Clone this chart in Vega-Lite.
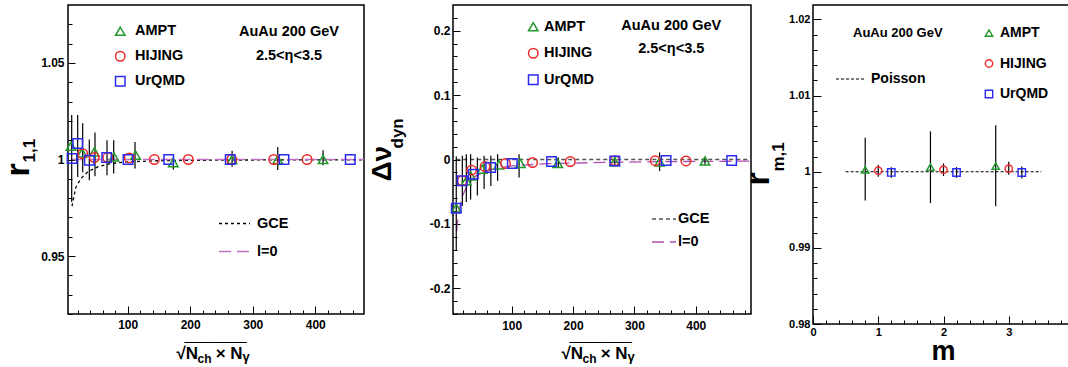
{
  "$schema": "https://vega.github.io/schema/vega-lite/v6.json",
  "autosize": {"type": "pad"},
  "padding": {"left": 0, "top": 4, "right": 0, "bottom": 0},
  "background": "white",
  "datasets": {
    "p1pts": [
      {"gen": "AMPT", "x": 9.3, "y": 1.0069}, {"gen": "AMPT", "x": 27, "y": 1.0034}, {"gen": "AMPT", "x": 46.6, "y": 1.0039},
      {"gen": "AMPT", "x": 78, "y": 1.0013}, {"gen": "AMPT", "x": 112.7, "y": 1.0022}, {"gen": "AMPT", "x": 173, "y": 0.9984},
      {"gen": "AMPT", "x": 267, "y": 1.0}, {"gen": "AMPT", "x": 340, "y": 0.9999}, {"gen": "AMPT", "x": 412.5, "y": 1.0},
      {"gen": "HIJING", "x": 28, "y": 1.003}, {"gen": "HIJING", "x": 46.6, "y": 1.001}, {"gen": "HIJING", "x": 68, "y": 1.001},
      {"gen": "HIJING", "x": 102.6, "y": 1.0008}, {"gen": "HIJING", "x": 142.6, "y": 1.0}, {"gen": "HIJING", "x": 197, "y": 1.0},
      {"gen": "HIJING", "x": 266.4, "y": 1.0}, {"gen": "HIJING", "x": 333.6, "y": 1.0}, {"gen": "HIJING", "x": 386.9, "y": 1.0},
      {"gen": "UrQMD", "x": 11, "y": 1.0005}, {"gen": "UrQMD", "x": 20, "y": 1.0083}, {"gen": "UrQMD", "x": 38.6, "y": 0.9996},
      {"gen": "UrQMD", "x": 66.4, "y": 1.001}, {"gen": "UrQMD", "x": 100.5, "y": 1.0}, {"gen": "UrQMD", "x": 165.6, "y": 1.0},
      {"gen": "UrQMD", "x": 264, "y": 1.0}, {"gen": "UrQMD", "x": 350, "y": 1.0}, {"gen": "UrQMD", "x": 456, "y": 1.0}
    ],
    "p1err": [
      {"x": 10.4, "lo": 0.978, "hi": 1.023}, {"x": 20, "lo": 0.991, "hi": 1.023}, {"x": 28, "lo": 0.9934, "hi": 1.0188},
      {"x": 38.6, "lo": 0.9893, "hi": 1.0104}, {"x": 47.7, "lo": 0.9913, "hi": 1.014}, {"x": 66.9, "lo": 0.9919, "hi": 1.01},
      {"x": 77.6, "lo": 0.9927, "hi": 1.01}, {"x": 111.7, "lo": 0.9953, "hi": 1.0091}, {"x": 173, "lo": 0.9948, "hi": 1.0013},
      {"x": 267, "lo": 0.9962, "hi": 1.0045}, {"x": 340, "lo": 0.9945, "hi": 1.0065}, {"x": 412.5, "lo": 0.997, "hi": 1.0048}
    ],
    "p1lines": [
      {"model": "GCE", "x": 11, "y": 0.9758}, {"model": "GCE", "x": 14, "y": 0.981}, {"model": "GCE", "x": 17.3, "y": 0.9858},
      {"model": "GCE", "x": 25.3, "y": 0.9902}, {"model": "GCE", "x": 36, "y": 0.9936}, {"model": "GCE", "x": 52, "y": 0.9962},
      {"model": "GCE", "x": 73, "y": 0.9979}, {"model": "GCE", "x": 100, "y": 0.9988}, {"model": "GCE", "x": 153, "y": 0.9994},
      {"model": "GCE", "x": 250, "y": 0.9997}, {"model": "GCE", "x": 350, "y": 0.9998}, {"model": "GCE", "x": 478, "y": 0.9998},
      {"model": "l=0", "x": 9, "y": 1.0}, {"model": "l=0", "x": 478, "y": 1.0}
    ],
    "p2pts": [
      {"gen": "AMPT", "x": 9.6, "y": -0.0756}, {"gen": "AMPT", "x": 26, "y": -0.033}, {"gen": "AMPT", "x": 33, "y": -0.0254},
      {"gen": "AMPT", "x": 52, "y": -0.015}, {"gen": "AMPT", "x": 79, "y": -0.0082}, {"gen": "AMPT", "x": 114, "y": -0.0062},
      {"gen": "AMPT", "x": 175, "y": -0.0062}, {"gen": "AMPT", "x": 268, "y": -0.0034}, {"gen": "AMPT", "x": 341, "y": -0.0039},
      {"gen": "AMPT", "x": 415, "y": -0.0023},
      {"gen": "HIJING", "x": 19.4, "y": -0.033}, {"gen": "HIJING", "x": 34.6, "y": -0.0165}, {"gen": "HIJING", "x": 56.5, "y": -0.0109},
      {"gen": "HIJING", "x": 90, "y": -0.0062}, {"gen": "HIJING", "x": 134, "y": -0.0047}, {"gen": "HIJING", "x": 195.4, "y": -0.0031},
      {"gen": "HIJING", "x": 268, "y": -0.002}, {"gen": "HIJING", "x": 334, "y": -0.0018}, {"gen": "HIJING", "x": 384, "y": -0.0023},
      {"gen": "UrQMD", "x": 9.6, "y": -0.0756}, {"gen": "UrQMD", "x": 19.4, "y": -0.033}, {"gen": "UrQMD", "x": 37.4, "y": -0.0228},
      {"gen": "UrQMD", "x": 65.7, "y": -0.0124}, {"gen": "UrQMD", "x": 101, "y": -0.0062}, {"gen": "UrQMD", "x": 165, "y": -0.0031},
      {"gen": "UrQMD", "x": 268, "y": -0.0023}, {"gen": "UrQMD", "x": 351.6, "y": -0.0016}, {"gen": "UrQMD", "x": 458.5, "y": -0.0016}
    ],
    "p2err": [
      {"x": 9.6, "lo": -0.142, "hi": 0.005}, {"x": 19.5, "lo": -0.072, "hi": 0.006}, {"x": 26, "lo": -0.066, "hi": 0.008},
      {"x": 33, "lo": -0.062, "hi": 0.008}, {"x": 44, "lo": -0.056, "hi": 0.003}, {"x": 55, "lo": -0.046, "hi": 0.006},
      {"x": 66, "lo": -0.041, "hi": 0.006}, {"x": 77, "lo": -0.033, "hi": 0.008}, {"x": 112, "lo": -0.028, "hi": 0.008},
      {"x": 176, "lo": -0.012, "hi": 0.003}, {"x": 268, "lo": -0.01, "hi": 0.006}, {"x": 341, "lo": -0.018, "hi": 0.011},
      {"x": 415, "lo": -0.008, "hi": 0.003}
    ],
    "p2lines": [
      {"model": "GCE", "x": 9.6, "y": 0}, {"model": "GCE", "x": 490, "y": 0},
      {"model": "l=0", "x": 10, "y": -0.112}, {"model": "l=0", "x": 11.3, "y": -0.1}, {"model": "l=0", "x": 14, "y": -0.08},
      {"model": "l=0", "x": 19.5, "y": -0.057}, {"model": "l=0", "x": 27.6, "y": -0.04}, {"model": "l=0", "x": 38.6, "y": -0.027},
      {"model": "l=0", "x": 55, "y": -0.019}, {"model": "l=0", "x": 76.6, "y": -0.013}, {"model": "l=0", "x": 104, "y": -0.0095},
      {"model": "l=0", "x": 158, "y": -0.0065}, {"model": "l=0", "x": 250, "y": -0.0045}, {"model": "l=0", "x": 350, "y": -0.0033},
      {"model": "l=0", "x": 490, "y": -0.0025}
    ],
    "p3pts": [
      {"gen": "AMPT", "m": 0.8, "r": 1.00026}, {"gen": "AMPT", "m": 1.8, "r": 1.0006}, {"gen": "AMPT", "m": 2.8, "r": 1.00074},
      {"gen": "HIJING", "m": 1.0, "r": 1.00013}, {"gen": "HIJING", "m": 2.0, "r": 1.00026}, {"gen": "HIJING", "m": 3.0, "r": 1.0004},
      {"gen": "UrQMD", "m": 1.2, "r": 0.99991}, {"gen": "UrQMD", "m": 2.2, "r": 0.9999}, {"gen": "UrQMD", "m": 3.2, "r": 0.9999}
    ],
    "p3err": [
      {"m": 0.8, "lo": 0.99623, "hi": 1.00447}, {"m": 1.8, "lo": 0.99588, "hi": 1.0053}, {"m": 2.8, "lo": 0.99548, "hi": 1.0061},
      {"m": 1.0, "lo": 0.99935, "hi": 1.0009}, {"m": 2.0, "lo": 0.99945, "hi": 1.0011}, {"m": 3.0, "lo": 0.9996, "hi": 1.0013},
      {"m": 1.2, "lo": 0.9992, "hi": 1.0006}, {"m": 2.2, "lo": 0.9992, "hi": 1.0006}, {"m": 3.2, "lo": 0.9991, "hi": 1.0007}
    ],
    "p3lines": [
      {"model": "Poisson", "m": 0.5, "r": 1.0}, {"model": "Poisson", "m": 3.5, "r": 1.0}
    ],
    "one": [{}]
  },
  "spacing": 2,
  "resolve": {
    "scale": {"color": "independent", "shape": "independent", "stroke": "independent", "strokeDash": "independent"},
    "legend": {"color": "independent", "shape": "independent", "stroke": "independent", "strokeDash": "independent"}
  },
  "hconcat": [
    {
      "width": 296,
      "height": 309,
      "resolve": {"axis": {"x": "independent", "y": "independent"}},
      "layer": [
        {
          "data": {"name": "p1lines"},
          "mark": {"type": "line", "strokeWidth": 1.3, "clip": true},
          "encoding": {
            "x": {"field": "x", "type": "quantitative", "scale": {"domain": [4.5, 478], "nice": false, "zero": false},
              "axis": {"orient": "bottom", "domain": false, "ticks": false, "labels": false, "grid": false, "title": "γ", "titleFontSize": 13, "titleAlign": "left", "titleBaseline": "alphabetic", "titleAngle": 0, "titleX": 174, "titleY": 46}},
            "y": {"field": "y", "type": "quantitative", "scale": {"domain": [0.92, 1.08], "nice": false, "zero": false}, "axis": null},
            "stroke": {"field": "model", "type": "nominal", "scale": {"domain": ["GCE", "l=0"], "range": ["#000000", "#c070c0"]},
              "legend": {"orient": "none", "legendX": 150, "legendY": 202, "title": null, "padding": 0, "symbolType": "stroke", "symbolSize": 961, "symbolStrokeWidth": 1.3, "rowPadding": 5, "labelOffset": 6, "labelFontSize": 14.5}},
            "strokeDash": {"field": "model", "type": "nominal", "scale": {"domain": ["GCE", "l=0"], "range": [[3, 3], [12, 6]]},
              "legend": {"orient": "none", "legendX": 150, "legendY": 202, "title": null, "padding": 0, "symbolType": "stroke", "symbolSize": 961, "symbolStrokeWidth": 1.3, "rowPadding": 5, "labelOffset": 6, "labelFontSize": 14.5}}
          }
        },
        {
          "data": {"name": "p1err"},
          "mark": {"type": "rule", "color": "black", "strokeWidth": 1.2},
          "encoding": {
            "x": {"field": "x", "type": "quantitative", "scale": {"domain": [4.5, 478], "nice": false, "zero": false},
              "axis": {"orient": "bottom", "domain": false, "ticks": false, "labels": false, "grid": false, "title": "ch", "titleFontSize": 12, "titleAlign": "left", "titleBaseline": "alphabetic", "titleAngle": 0, "titleX": 129, "titleY": 48}},
            "y": {"field": "lo", "type": "quantitative", "scale": {"domain": [0.92, 1.08], "nice": false, "zero": false},
              "axis": {"orient": "left", "domain": false, "ticks": false, "labels": false, "grid": false, "title": "1,1", "titleFontSize": 17, "titleAngle": 270, "titleAlign": "left", "titleBaseline": "alphabetic", "titleX": -34, "titleY": 157}},
            "y2": {"field": "hi"}
          }
        },
        {
          "data": {"name": "p1pts"},
          "mark": {"type": "point", "filled": false, "strokeWidth": 1.5, "size": 90, "opacity": 1},
          "encoding": {
            "x": {"field": "x", "type": "quantitative", "scale": {"domain": [4.5, 478], "nice": false, "zero": false},
              "axis": {"orient": "bottom", "values": [20,40,60,80,100,120,140,160,180,200,220,240,260,280,300,320,340,360,380,400,420,440,460],
                "labelExpr": "datum.value % 100 == 0 ? format(datum.value, 'd') : ''",
                "tickSize": {"condition": {"test": "datum.value % 100 == 0", "value": -8}, "value": -4},
                "labelPadding": 13, "title": "√N\u00a0\u00a0\u00a0\u2009× N", "titleFontSize": 17, "titleAlign": "left", "titleBaseline": "alphabetic", "titleAngle": 0, "titleX": 108, "titleY": 44}},
            "y": {"field": "y", "type": "quantitative", "scale": {"domain": [0.92, 1.08], "nice": false, "zero": false},
              "axis": {"orient": "left", "values": [0.92,0.93,0.94,0.95,0.96,0.97,0.98,0.99,1,1.01,1.02,1.03,1.04,1.05,1.06,1.07],
                "labelExpr": "abs(datum.value*20 - round(datum.value*20)) < 0.001 ? format(datum.value, '.2~f') : ''",
                "tickSize": {"condition": {"test": "abs(datum.value*20 - round(datum.value*20)) < 0.001", "value": -7}, "value": -4},
                "labelPadding": 11, "title": "r", "titleFontSize": 34, "titleAngle": 270, "titleAlign": "left", "titleBaseline": "alphabetic", "titleX": -40, "titleY": 171}},
            "color": {"field": "gen", "type": "nominal", "scale": {"domain": ["AMPT", "HIJING", "UrQMD"], "range": ["#22992a", "#f02828", "#2a2af0"]},
              "legend": {"orient": "none", "legendX": 45, "legendY": 19, "title": null, "padding": 0, "rowPadding": 9, "labelOffset": 7.5, "symbolSize": 90, "symbolStrokeWidth": 1.5, "labelFontSize": 14.5}},
            "shape": {"field": "gen", "type": "nominal", "scale": {"domain": ["AMPT", "HIJING", "UrQMD"], "range": ["triangle-up", "circle", "square"]},
              "legend": {"orient": "none", "legendX": 45, "legendY": 19, "title": null, "padding": 0, "rowPadding": 9, "labelOffset": 7.5, "symbolSize": 90, "symbolStrokeWidth": 1.5, "labelFontSize": 14.5}}
          }
        },
        {
          "data": {"name": "one"},
          "mark": {"type": "text", "text": "AuAu 200 GeV", "fontSize": 14.5, "align": "center", "baseline": "middle"},
          "encoding": {
            "x": {"datum": 358, "type": "quantitative", "scale": {"domain": [4.5, 478], "nice": false, "zero": false}, "axis": null},
            "y": {"datum": 1.066, "type": "quantitative", "scale": {"domain": [0.92, 1.08], "nice": false, "zero": false}, "axis": null}
          }
        },
        {
          "data": {"name": "one"},
          "mark": {"type": "text", "text": "2.5<η<3.5", "fontSize": 14.5, "align": "center", "baseline": "middle"},
          "encoding": {
            "x": {"datum": 358, "type": "quantitative", "scale": {"domain": [4.5, 478], "nice": false, "zero": false},
              "axis": {"orient": "bottom", "domain": false, "ticks": false, "labels": false, "grid": false, "title": "________", "titleFontSize": 14, "titleFontWeight": "normal", "titleAlign": "left", "titleBaseline": "alphabetic", "titleAngle": 0, "titleX": 116, "titleY": 25.5}},
            "y": {"datum": 1.0535, "type": "quantitative", "scale": {"domain": [0.92, 1.08], "nice": false, "zero": false}, "axis": null}
          }
        }
      ]
    },
    {
      "spacing": -12,
      "resolve": {
        "scale": {"color": "independent", "shape": "independent", "stroke": "independent", "strokeDash": "independent"},
        "legend": {"color": "independent", "shape": "independent", "stroke": "independent", "strokeDash": "independent"}
      },
      "hconcat": [
        {
          "width": 298,
          "height": 309,
          "resolve": {"axis": {"x": "independent", "y": "independent"}},
          "layer": [
            {
              "data": {"name": "p2lines"},
              "mark": {"type": "line", "strokeWidth": 1.3, "clip": true},
              "encoding": {
                "x": {"field": "x", "type": "quantitative", "scale": {"domain": [4.3, 490], "nice": false, "zero": false},
                  "axis": {"orient": "bottom", "domain": false, "ticks": false, "labels": false, "grid": false, "title": "γ", "titleFontSize": 13, "titleAlign": "left", "titleBaseline": "alphabetic", "titleAngle": 0, "titleX": 174, "titleY": 46}},
                "y": {"field": "y", "type": "quantitative", "scale": {"domain": [-0.24, 0.24], "nice": false, "zero": false}, "axis": null},
                "stroke": {"field": "model", "type": "nominal", "scale": {"domain": ["GCE", "l=0"], "range": ["#555555", "#b04cb0"]},
                  "legend": {"orient": "none", "legendX": 198, "legendY": 201, "title": null, "padding": 0, "symbolType": "stroke", "symbolSize": 576, "symbolStrokeWidth": 1.3, "rowPadding": 3, "labelOffset": 1, "labelFontSize": 14.5}},
                "strokeDash": {"field": "model", "type": "nominal", "scale": {"domain": ["GCE", "l=0"], "range": [[4, 3], [12, 6]]},
                  "legend": {"orient": "none", "legendX": 198, "legendY": 201, "title": null, "padding": 0, "symbolType": "stroke", "symbolSize": 576, "symbolStrokeWidth": 1.3, "rowPadding": 3, "labelOffset": 1, "labelFontSize": 14.5}}
              }
            },
            {
              "data": {"name": "p2err"},
              "mark": {"type": "rule", "color": "black", "strokeWidth": 1.2},
              "encoding": {
                "x": {"field": "x", "type": "quantitative", "scale": {"domain": [4.3, 490], "nice": false, "zero": false},
                  "axis": {"orient": "bottom", "domain": false, "ticks": false, "labels": false, "grid": false, "title": "ch", "titleFontSize": 12, "titleAlign": "left", "titleBaseline": "alphabetic", "titleAngle": 0, "titleX": 129, "titleY": 48}},
                "y": {"field": "lo", "type": "quantitative", "scale": {"domain": [-0.24, 0.24], "nice": false, "zero": false},
                  "axis": {"orient": "left", "domain": false, "ticks": false, "labels": false, "grid": false, "title": "dyn", "titleFontSize": 17, "titleAngle": 270, "titleAlign": "left", "titleBaseline": "alphabetic", "titleX": -51, "titleY": 143}},
                "y2": {"field": "hi"}
              }
            },
            {
              "data": {"name": "p2pts"},
              "mark": {"type": "point", "filled": false, "strokeWidth": 1.5, "size": 90, "opacity": 1},
              "encoding": {
                "x": {"field": "x", "type": "quantitative", "scale": {"domain": [4.3, 490], "nice": false, "zero": false},
                  "axis": {"orient": "bottom", "values": [20,40,60,80,100,120,140,160,180,200,220,240,260,280,300,320,340,360,380,400,420,440,460,480],
                    "labelExpr": "datum.value % 100 == 0 ? format(datum.value, 'd') : ''",
                    "tickSize": {"condition": {"test": "datum.value % 100 == 0", "value": -8}, "value": -4},
                    "labelPadding": 14, "title": "√N\u00a0\u00a0\u00a0\u2009× N", "titleFontSize": 17, "titleAlign": "left", "titleBaseline": "alphabetic", "titleAngle": 0, "titleX": 108, "titleY": 44}},
                "y": {"field": "y", "type": "quantitative", "scale": {"domain": [-0.24, 0.24], "nice": false, "zero": false},
                  "axis": {"orient": "left", "values": [-0.24,-0.22,-0.2,-0.18,-0.16,-0.14,-0.12,-0.1,-0.08,-0.06,-0.04,-0.02,0,0.02,0.04,0.06,0.08,0.1,0.12,0.14,0.16,0.18,0.2,0.22],
                    "labelExpr": "abs(datum.value*10 - round(datum.value*10)) < 0.001 ? replace(format(datum.value, '.1~f'), '−', '-') : ''",
                    "tickSize": {"condition": {"test": "abs(datum.value*10 - round(datum.value*10)) < 0.001", "value": -7}, "value": -4},
                    "labelPadding": 10, "title": "Δν", "titleFontSize": 28, "titleAngle": 270, "titleAlign": "left", "titleBaseline": "alphabetic", "titleX": -63, "titleY": 176}},
                "color": {"field": "gen", "type": "nominal", "scale": {"domain": ["AMPT", "HIJING", "UrQMD"], "range": ["#22992a", "#f02828", "#2a2af0"]},
                  "legend": {"orient": "none", "legendX": 73, "legendY": 14.5, "title": null, "padding": 0, "rowPadding": 10.5, "labelOffset": 3.5, "symbolSize": 90, "symbolStrokeWidth": 1.5, "labelFontSize": 14.5}},
                "shape": {"field": "gen", "type": "nominal", "scale": {"domain": ["AMPT", "HIJING", "UrQMD"], "range": ["triangle-up", "circle", "square"]},
                  "legend": {"orient": "none", "legendX": 73, "legendY": 14.5, "title": null, "padding": 0, "rowPadding": 10.5, "labelOffset": 3.5, "symbolSize": 90, "symbolStrokeWidth": 1.5, "labelFontSize": 14.5}}
              }
            },
            {
              "data": {"name": "one"},
              "mark": {"type": "text", "text": "AuAu 200 GeV", "fontSize": 14.5, "align": "center", "baseline": "middle"},
              "encoding": {
                "x": {"datum": 360, "type": "quantitative", "scale": {"domain": [4.3, 490], "nice": false, "zero": false}, "axis": null},
                "y": {"datum": 0.208, "type": "quantitative", "scale": {"domain": [-0.24, 0.24], "nice": false, "zero": false}, "axis": null}
              }
            },
            {
              "data": {"name": "one"},
              "mark": {"type": "text", "text": "2.5<η<3.5", "fontSize": 14.5, "align": "center", "baseline": "middle"},
              "encoding": {
                "x": {"datum": 360, "type": "quantitative", "scale": {"domain": [4.3, 490], "nice": false, "zero": false},
                  "axis": {"orient": "bottom", "domain": false, "ticks": false, "labels": false, "grid": false, "title": "________", "titleFontSize": 14, "titleFontWeight": "normal", "titleAlign": "left", "titleBaseline": "alphabetic", "titleAngle": 0, "titleX": 116, "titleY": 25.5}},
                "y": {"datum": 0.172, "type": "quantitative", "scale": {"domain": [-0.24, 0.24], "nice": false, "zero": false}, "axis": null}
              }
            }
          ]
        },
        {
          "width": 261,
          "height": 319,
          "resolve": {"axis": {"x": "independent", "y": "independent"}},
          "layer": [
            {
              "data": {"name": "p3lines"},
              "mark": {"type": "line", "strokeWidth": 1.2, "clip": true},
              "encoding": {
                "x": {"field": "m", "type": "quantitative", "scale": {"domain": [0, 4], "nice": false, "zero": false}, "axis": null},
                "y": {"field": "r", "type": "quantitative", "scale": {"domain": [0.98, 1.0219], "nice": false, "zero": false}, "axis": null},
                "stroke": {"field": "model", "type": "nominal", "scale": {"domain": ["Poisson"], "range": ["#000000"]},
                  "legend": {"orient": "none", "legendX": 22, "legendY": 58.5, "title": null, "padding": 0, "symbolType": "stroke", "symbolSize": 841, "symbolStrokeWidth": 1.2, "labelOffset": 5, "labelFontSize": 14}},
                "strokeDash": {"field": "model", "type": "nominal", "scale": {"domain": ["Poisson"], "range": [[3, 2]]},
                  "legend": {"orient": "none", "legendX": 22, "legendY": 58.5, "title": null, "padding": 0, "symbolType": "stroke", "symbolSize": 841, "symbolStrokeWidth": 1.2, "labelOffset": 5, "labelFontSize": 14}}
              }
            },
            {
              "data": {"name": "p3err"},
              "mark": {"type": "rule", "color": "black", "strokeWidth": 1.2},
              "encoding": {
                "x": {"field": "m", "type": "quantitative", "scale": {"domain": [0, 4], "nice": false, "zero": false}, "axis": null},
                "y": {"field": "lo", "type": "quantitative", "scale": {"domain": [0.98, 1.0219], "nice": false, "zero": false},
                  "axis": {"orient": "left", "domain": false, "ticks": false, "labels": false, "grid": false, "title": "m,1", "titleFontSize": 17, "titleAngle": 270, "titleAlign": "left", "titleBaseline": "alphabetic", "titleX": -30, "titleY": 166}},
                "y2": {"field": "hi"}
              }
            },
            {
              "data": {"name": "p3pts"},
              "mark": {"type": "point", "filled": false, "strokeWidth": 1.4, "size": 55, "opacity": 1},
              "encoding": {
                "x": {"field": "m", "type": "quantitative", "scale": {"domain": [0, 4], "nice": false, "zero": false},
                  "axis": {"orient": "bottom", "values": [0,0.2,0.4,0.6,0.8,1,1.2,1.4,1.6,1.8,2,2.2,2.4,2.6,2.8,3,3.2,3.4,3.6,3.8,4],
                    "labelExpr": "abs(datum.value - round(datum.value)) < 0.001 ? format(datum.value, '.0f') : ''",
                    "tickSize": {"condition": {"test": "abs(datum.value - round(datum.value)) < 0.001", "value": -8}, "value": -4},
                    "labelPadding": 10, "labelFontSize": 11, "title": "m", "titleFontSize": 27, "titleAlign": "center", "titleBaseline": "alphabetic", "titleAngle": 0, "titleX": 130, "titleY": 35}},
                "y": {"field": "r", "type": "quantitative", "scale": {"domain": [0.98, 1.0219], "nice": false, "zero": false},
                  "axis": {"orient": "left", "values": [0.98,0.982,0.984,0.986,0.988,0.99,0.992,0.994,0.996,0.998,1,1.002,1.004,1.006,1.008,1.01,1.012,1.014,1.016,1.018,1.02],
                    "labelExpr": "abs(datum.value*100 - round(datum.value*100)) < 0.001 ? format(datum.value, '.2~f') : ''",
                    "tickSize": {"condition": {"test": "abs(datum.value*100 - round(datum.value*100)) < 0.001", "value": -8}, "value": -4},
                    "labelPadding": 11, "labelFontSize": 11, "title": "r", "titleFontSize": 34, "titleAngle": 270, "titleAlign": "left", "titleBaseline": "alphabetic", "titleX": -45, "titleY": 180}},
                "color": {"field": "gen", "type": "nominal", "scale": {"domain": ["AMPT", "HIJING", "UrQMD"], "range": ["#22992a", "#f02828", "#2a2af0"]},
                  "legend": {"orient": "none", "legendX": 169, "legendY": 21, "title": null, "padding": 0, "rowPadding": 16.5, "labelOffset": 4, "symbolSize": 55, "symbolStrokeWidth": 1.4, "labelFontSize": 14}},
                "shape": {"field": "gen", "type": "nominal", "scale": {"domain": ["AMPT", "HIJING", "UrQMD"], "range": ["triangle-up", "circle", "square"]},
                  "legend": {"orient": "none", "legendX": 169, "legendY": 21, "title": null, "padding": 0, "rowPadding": 16.5, "labelOffset": 4, "symbolSize": 55, "symbolStrokeWidth": 1.4, "labelFontSize": 14}}
              }
            },
            {
              "data": {"name": "one"},
              "mark": {"type": "text", "text": "AuAu 200 GeV", "fontSize": 13, "align": "center", "baseline": "middle"},
              "encoding": {
                "x": {"datum": 1.3, "type": "quantitative", "scale": {"domain": [0, 4], "nice": false, "zero": false}, "axis": null},
                "y": {"datum": 1.0182, "type": "quantitative", "scale": {"domain": [0.98, 1.0219], "nice": false, "zero": false}, "axis": null}
              }
            }
          ]
        }
      ]
    }
  ],
  "config": {
    "font": "Liberation Sans",
    "view": {"stroke": "#000000", "strokeWidth": 1.5},
    "axis": {
      "labelFont": "Liberation Sans", "labelFontWeight": "bold", "labelFontSize": 12, "labelColor": "#000000",
      "titleFont": "Liberation Sans", "titleFontWeight": "bold", "titleColor": "#000000",
      "tickColor": "#000000", "tickWidth": 1, "domain": false, "grid": false,
      "labelOverlap": false, "labelFlush": false, "labelBound": false
    },
    "legend": {"labelFont": "Liberation Sans", "labelFontWeight": "bold", "labelColor": "#000000", "labelLimit": 0},
    "text": {"font": "Liberation Sans", "fontWeight": "bold", "color": "#000000"}
  }
}
